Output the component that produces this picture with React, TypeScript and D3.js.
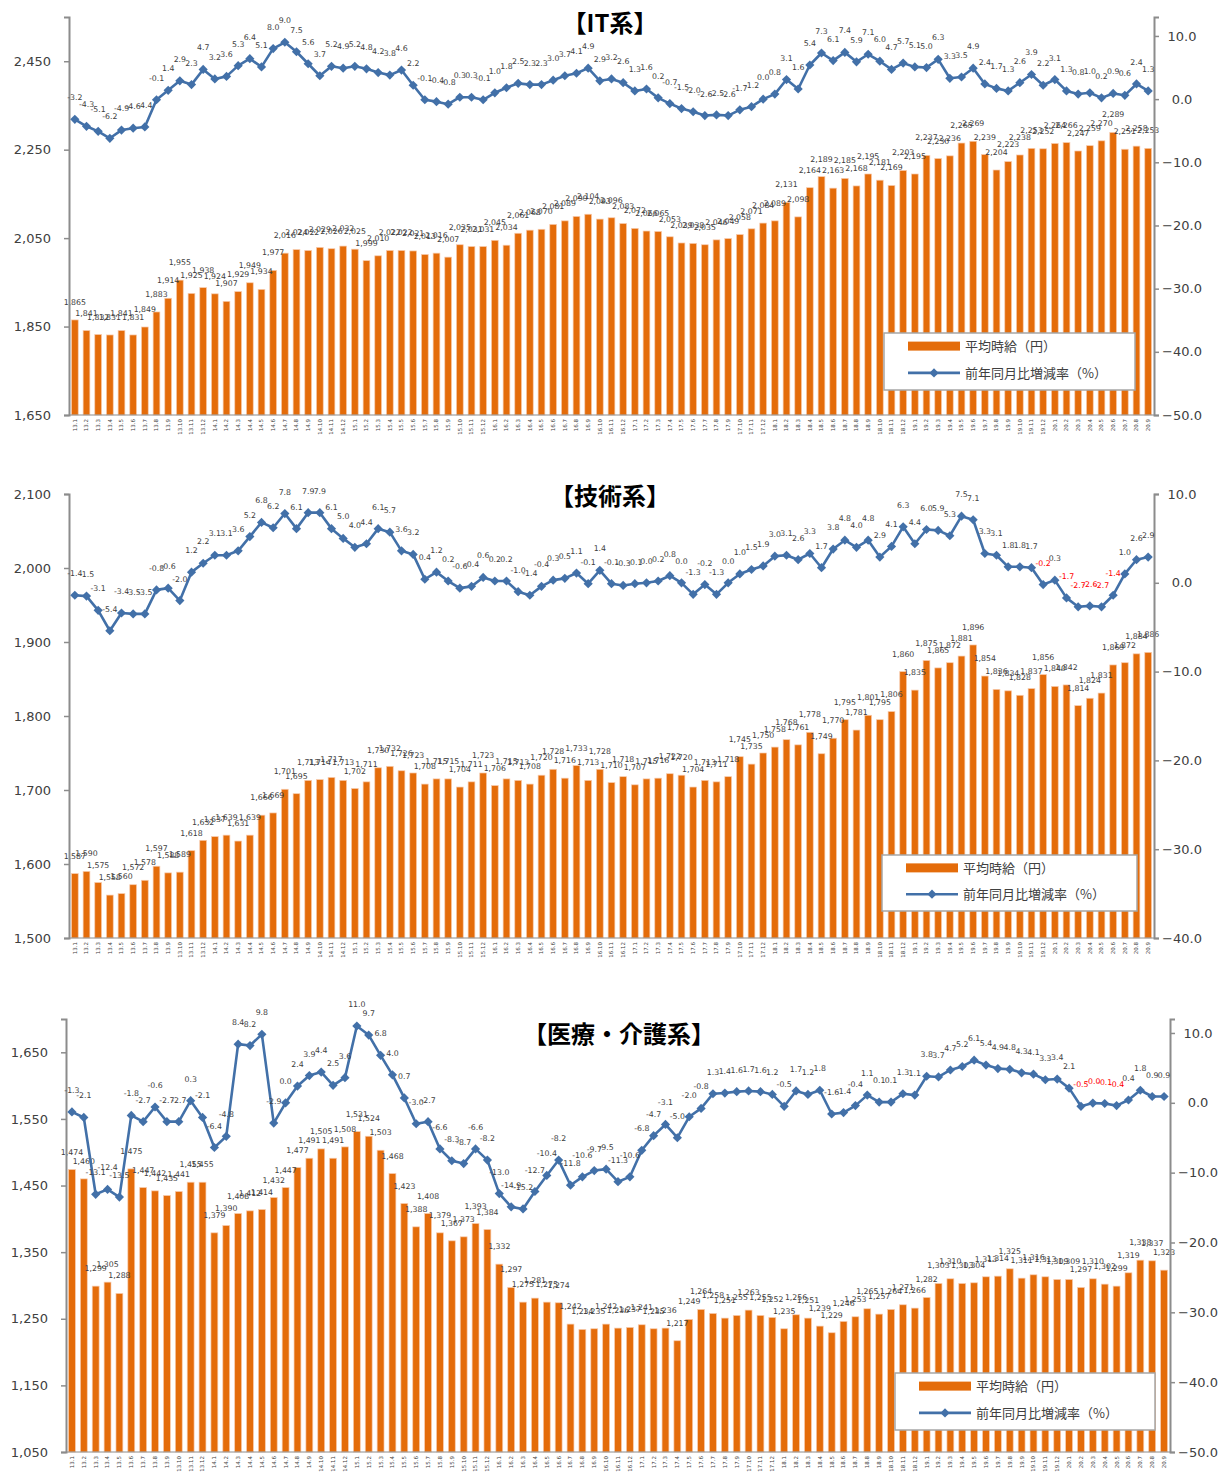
import React, { useRef, useEffect } from 'react';
import * as d3 from 'd3';

// month labels (year.month), Jan 2013 – Sep 2020
const months = [
  '13.1', '13.2', '13.3', '13.4', '13.5', '13.6', '13.7', '13.8', '13.9', '13.10', '13.11', '13.12',
  '14.1', '14.2', '14.3', '14.4', '14.5', '14.6', '14.7', '14.8', '14.9', '14.10', '14.11', '14.12',
  '15.1', '15.2', '15.3', '15.4', '15.5', '15.6', '15.7', '15.8', '15.9', '15.10', '15.11', '15.12',
  '16.1', '16.2', '16.3', '16.4', '16.5', '16.6', '16.7', '16.8', '16.9', '16.10', '16.11', '16.12',
  '17.1', '17.2', '17.3', '17.4', '17.5', '17.6', '17.7', '17.8', '17.9', '17.10', '17.11', '17.12',
  '18.1', '18.2', '18.3', '18.4', '18.5', '18.6', '18.7', '18.8', '18.9', '18.10', '18.11', '18.12',
  '19.1', '19.2', '19.3', '19.4', '19.5', '19.6', '19.7', '19.8', '19.9', '19.10', '19.11', '19.12',
  '20.1', '20.2', '20.3', '20.4', '20.5', '20.6', '20.7', '20.8', '20.9',
];

// 【IT系】
const itWage = [
  1865, 1841, 1832, 1831, 1841, 1831, 1849, 1883, 1914, 1955, 1925, 1938,
  1924, 1907, 1929, 1949, 1934, 1977, 2016, 2024, 2022, 2029, 2026, 2032,
  2025, 1999, 2010, 2022, 2022, 2021, 2013, 2016, 2007, 2035, 2031, 2031,
  2045, 2034, 2061, 2068, 2070, 2081, 2089, 2099, 2104, 2093, 2096, 2083,
  2072, 2066, 2065, 2053, 2039, 2038, 2035, 2046, 2049, 2058, 2071, 2084,
  2089, 2131, 2098, 2164, 2189, 2163, 2185, 2168, 2195, 2181, 2169, 2203,
  2195, 2237, 2230, 2236, 2265, 2269, 2239, 2204, 2223, 2238, 2253, 2252,
  2264, 2266, 2247, 2259, 2270, 2289, 2251, 2258, 2253,
];
const itRate = [
  -3.2, -4.3, -5.1, -6.2, -4.9, -4.6, -4.4, -0.1, 1.4, 2.9, 2.3, 4.7,
  3.2, 3.6, 5.3, 6.4, 5.1, 8.0, 9.0, 7.5, 5.6, 3.7, 5.2, 4.9,
  5.2, 4.8, 4.2, 3.8, 4.6, 2.2, -0.1, -0.4, -0.8, 0.3, 0.3, -0.1,
  1.0, 1.8, 2.5, 2.3, 2.3, 3.0, 3.7, 4.1, 4.9, 2.9, 3.2, 2.6,
  1.3, 1.6, 0.2, -0.7, -1.5, -2.0, -2.6, -2.5, -2.6, -1.7, -1.2, 0.0,
  0.8, 3.1, 1.6, 5.4, 7.3, 6.1, 7.4, 5.9, 7.1, 6.0, 4.7, 5.7,
  5.1, 5.0, 6.3, 3.3, 3.5, 4.9, 2.4, 1.7, 1.3, 2.6, 3.9, 2.2,
  3.1, 1.3, 0.8, 1.0, 0.2, 0.9, 0.6, 2.4, 1.3,
];

// 【技術系】
const techWage = [
  1587, 1590, 1575, 1558, 1560, 1572, 1578, 1597, 1588, 1589, 1618, 1632,
  1637, 1639, 1631, 1639, 1666, 1669, 1701, 1695, 1713, 1714, 1717, 1713,
  1702, 1711, 1730, 1732, 1726, 1723, 1708, 1715, 1715, 1704, 1711, 1723,
  1706, 1715, 1713, 1708, 1720, 1728, 1716, 1733, 1713, 1728, 1710, 1718,
  1707, 1715, 1716, 1722, 1720, 1704, 1713, 1711, 1718, 1745, 1735, 1750,
  1758, 1768, 1761, 1778, 1749, 1770, 1795, 1781, 1801, 1795, 1806, 1860,
  1835, 1875, 1865, 1872, 1881, 1896, 1854, 1836, 1834, 1828, 1837, 1856,
  1840, 1842, 1814, 1824, 1831, 1869, 1872, 1884, 1886,
];
const techRate = [
  -1.4, -1.5, -3.1, -5.4, -3.4, -3.5, -3.5, -0.8, -0.6, -2.0, 1.2, 2.2,
  3.1, 3.1, 3.6, 5.2, 6.8, 6.2, 7.8, 6.1, 7.9, 7.9, 6.1, 5.0,
  4.0, 4.4, 6.1, 5.7, 3.6, 3.2, 0.4, 1.2, 0.2, -0.6, -0.4, 0.6,
  0.2, 0.2, -1.0, -1.4, -0.4, 0.3, 0.5, 1.1, -0.1, 1.4, -0.1, -0.3,
  -0.1, 0.0, 0.2, 0.8, 0.0, -1.3, -0.2, -1.3, 0.0, 1.0, 1.5, 1.9,
  3.0, 3.1, 2.6, 3.3, 1.7, 3.8, 4.8, 4.0, 4.8, 2.9, 4.1, 6.3,
  4.4, 6.0, 5.9, 5.3, 7.5, 7.1, 3.3, 3.1, 1.8, 1.8, 1.7, -0.2,
  0.3, -1.7, -2.7, -2.6, -2.7, -1.4, 1.0, 2.6, 2.9,
];

// 【医療・介護系】
const medWage = [
  1474, 1460, 1299, 1305, 1288, 1475, 1447, 1442, 1435, 1441, 1455, 1455,
  1379, 1390, 1408, 1412, 1414, 1432, 1447, 1477, 1491, 1505, 1491, 1508,
  1531, 1524, 1503, 1468, 1423, 1388, 1408, 1379, 1367, 1373, 1393, 1384,
  1332, 1297, 1275, 1281, 1275, 1274, 1242, 1234, 1235, 1242, 1236, 1237,
  1241, 1235, 1236, 1217, 1249, 1264, 1258, 1251, 1255, 1263, 1255, 1252,
  1235, 1256, 1251, 1239, 1229, 1246, 1253, 1265, 1257, 1264, 1271, 1266,
  1282, 1303, 1310, 1303, 1304, 1313, 1314, 1325, 1311, 1316, 1313, 1309,
  1309, 1297, 1310, 1302, 1299, 1319, 1338, 1337, 1323,
];
const medRate = [
  -1.3, -2.1, -13.1, -12.4, -13.5, -1.8, -2.7, -0.6, -2.7, -2.7, 0.3, -2.1,
  -6.4, -4.8, 8.4, 8.2, 9.8, -2.9, 0.0, 2.4, 3.9, 4.4, 2.5, 3.6,
  11.0, 9.7, 6.8, 4.0, 0.7, -3.0, -2.7, -6.6, -8.3, -8.7, -6.6, -8.2,
  -13.0, -14.9, -15.2, -12.7, -10.4, -8.2, -11.8, -10.6, -9.7, -9.5, -11.3, -10.6,
  -6.8, -4.7, -3.1, -5.0, -2.0, -0.8, 1.3, 1.4, 1.6, 1.7, 1.6, 1.2,
  -0.5, 1.7, 1.2, 1.8, -1.6, -1.4, -0.4, 1.1, 0.1, 0.1, 1.3, 1.1,
  3.8, 3.7, 4.7, 5.2, 6.1, 5.4, 4.9, 4.8, 4.3, 4.1, 3.3, 3.4,
  2.1, -0.5, -0.04, -0.1, -0.4, 0.4, 1.8, 0.9, 0.9,
];

const wageLabel = '平均時給（円）';
const rateLabel = '前年同月比増減率（%）';

const BAR = '#E46C0A';
const LINE = '#4270A8';
const TEXT = '#404040';
const AXIS = '#8C8C8C';
const NUM_FONT = '"DejaVu Sans", Verdana, sans-serif';
const JP_FONT = '"Noto Sans CJK JP", "Noto Sans", sans-serif';

interface Panel {
  title: string;
  wage: number[];
  rate: number[];
  left: number;
  right: number;
  top: number;
  bottom: number;
  wageDomain: [number, number];
  wageTicks: number[];
  rateDomain: [number, number];
  rateTicks: number[];
  titleX: number;
  titleY: number;
  legend: { x: number; y: number; w: number; h: number };
}

const panels: Panel[] = [
  {
    title: '【IT系】', wage: itWage, rate: itRate,
    left: 69, right: 1154, top: 17, bottom: 415,
    wageDomain: [1650, 2550], wageTicks: [1650, 1850, 2050, 2250, 2450],
    rateDomain: [-50, 13], rateTicks: [-50, -40, -30, -20, -10, 0, 10],
    titleX: 610, titleY: 32,
    legend: { x: 884, y: 333, w: 251, h: 57 },
  },
  {
    title: '【技術系】', wage: techWage, rate: techRate,
    left: 69, right: 1154, top: 494, bottom: 938,
    wageDomain: [1500, 2100], wageTicks: [1500, 1600, 1700, 1800, 1900, 2000, 2100],
    rateDomain: [-40, 10], rateTicks: [-40, -30, -20, -10, 0, 10],
    titleX: 610, titleY: 505,
    legend: { x: 882, y: 855, w: 255, h: 56 },
  },
  {
    title: '【医療・介護系】', wage: medWage, rate: medRate,
    left: 66, right: 1170, top: 1019, bottom: 1452,
    wageDomain: [1050, 1700], wageTicks: [1050, 1150, 1250, 1350, 1450, 1550, 1650],
    rateDomain: [-50, 12], rateTicks: [-50, -40, -30, -20, -10, 0, 10],
    titleX: 619, titleY: 1043,
    legend: { x: 895, y: 1373, w: 260, h: 57 },
  },
];

const diamond = (r: number) => `M0,${-r}L${r},0L0,${r}L${-r},0Z`;

function drawPanel(svg: d3.Selection<SVGSVGElement, unknown, null, undefined>, p: Panel) {
  const g = svg.append('g');

  const x = d3.scaleBand<string>()
    .domain(months)
    .range([p.left, p.right])
    .paddingInner(0.42)
    .paddingOuter(0.21);
  const yL = d3.scaleLinear().domain(p.wageDomain).range([p.bottom, p.top]);
  const yR = d3.scaleLinear().domain(p.rateDomain).range([p.bottom, p.top]);
  const cx = (i: number) => (x(months[i]) as number) + x.bandwidth() / 2;

  // bars
  g.append('g')
    .selectAll('rect')
    .data(p.wage)
    .enter()
    .append('rect')
    .attr('x', (d, i) => x(months[i]) as number)
    .attr('y', d => yL(d))
    .attr('width', x.bandwidth())
    .attr('height', d => p.bottom - yL(d))
    .attr('fill', BAR)
    .attr('stroke', '#F8CBAD')
    .attr('stroke-width', 0.7);

  // bar labels
  g.append('g')
    .selectAll('text')
    .data(p.wage)
    .enter()
    .append('text')
    .attr('x', (d, i) => cx(i))
    .attr('y', d => yL(d) - 15)
    .attr('text-anchor', 'middle')
    .style('font-family', NUM_FONT)
    .style('font-size', '7.8px')
    .style('fill', TEXT)
    .text(d => d3.format(',')(d));

  // x axis
  g.append('line')
    .attr('x1', p.left).attr('x2', p.right)
    .attr('y1', p.bottom).attr('y2', p.bottom)
    .attr('stroke', AXIS).attr('stroke-width', 1);

  g.append('g')
    .selectAll('text')
    .data(months)
    .enter()
    .append('text')
    .attr('transform', (d, i) => `translate(${cx(i)},${p.bottom + 4}) rotate(-90)`)
    .attr('dy', '0.35em')
    .attr('text-anchor', 'end')
    .style('font-family', NUM_FONT)
    .style('font-size', '5.5px')
    .style('fill', TEXT)
    .text(d => d);

  // left axis
  const axL = g.append('g')
    .attr('transform', `translate(${p.left},0)`)
    .call(d3.axisLeft(yL).tickValues(p.wageTicks).tickFormat(d3.format(',')).tickSize(5).tickPadding(13));
  axL.select('.domain').attr('stroke', AXIS).attr('stroke-width', 2);
  axL.selectAll('.tick line').attr('stroke', AXIS).attr('stroke-width', 1.5);
  axL.selectAll('.tick text')
    .style('font-family', NUM_FONT)
    .style('font-size', '13px')
    .style('fill', TEXT);

  // right axis (labels centred like the original)
  const axR = g.append('g')
    .attr('transform', `translate(${p.right},0)`)
    .call(d3.axisRight(yR).tickValues(p.rateTicks).tickFormat(d3.format('.1f')).tickSize(5).tickPadding(23));
  axR.select('.domain').attr('stroke', AXIS).attr('stroke-width', 2);
  axR.selectAll('.tick line').attr('stroke', AXIS).attr('stroke-width', 1.5);
  axR.selectAll('.tick text')
    .attr('text-anchor', 'middle')
    .style('font-family', NUM_FONT)
    .style('font-size', '13px')
    .style('fill', TEXT);

  // rate line
  const line = d3.line<number>()
    .x((d, i) => cx(i))
    .y(d => yR(d));

  g.append('path')
    .datum(p.rate)
    .attr('d', line)
    .attr('fill', 'none')
    .attr('stroke', LINE)
    .attr('stroke-width', 2.6)
    .attr('stroke-linejoin', 'round');

  g.append('g')
    .selectAll('path')
    .data(p.rate)
    .enter()
    .append('path')
    .attr('transform', (d, i) => `translate(${cx(i)},${yR(d)})`)
    .attr('d', diamond(4.6))
    .attr('fill', LINE);

  // rate labels, recent negative months in red
  g.append('g')
    .selectAll('text')
    .data(p.rate)
    .enter()
    .append('text')
    .attr('x', (d, i) => cx(i))
    .attr('y', d => yR(d) - 19)
    .attr('text-anchor', 'middle')
    .style('font-family', NUM_FONT)
    .style('font-size', '7.8px')
    .style('fill', (d, i) => (i >= 83 && d < 0 ? '#FF0000' : TEXT))
    .text(d => d.toFixed(1));

  // title
  g.append('text')
    .attr('x', p.titleX)
    .attr('y', p.titleY)
    .attr('text-anchor', 'middle')
    .style('font-family', JP_FONT)
    .style('font-size', '24px')
    .style('font-weight', 'bold')
    .style('fill', '#000')
    .text(p.title);

  // legend
  const L = p.legend;
  const lg = g.append('g').attr('transform', `translate(${L.x},${L.y})`);
  lg.append('rect')
    .attr('width', L.w).attr('height', L.h)
    .attr('fill', '#fff')
    .attr('stroke', '#A6A6A6')
    .attr('stroke-width', 1.5);
  const r1 = L.h * 0.23;
  const r2 = L.h * 0.7;
  lg.append('rect')
    .attr('x', 24).attr('y', r1 - 4.5)
    .attr('width', 52).attr('height', 9)
    .attr('fill', BAR);
  lg.append('line')
    .attr('x1', 24).attr('x2', 76)
    .attr('y1', r2).attr('y2', r2)
    .attr('stroke', LINE).attr('stroke-width', 2.6);
  lg.append('path')
    .attr('transform', `translate(50,${r2})`)
    .attr('d', diamond(4.6))
    .attr('fill', LINE);
  [[wageLabel, r1], [rateLabel, r2]].forEach(([label, ry]) => {
    lg.append('text')
      .attr('x', 81)
      .attr('y', ry as number)
      .attr('dy', '0.36em')
      .style('font-family', JP_FONT)
      .style('font-size', '13px')
      .style('fill', TEXT)
      .text(label as string);
  });
}

const App: React.FC = () => {
  const svgRef = useRef<SVGSVGElement>(null);

  useEffect(() => {
    if (!svgRef.current) return;
    const svg = d3.select(svgRef.current);
    svg.selectAll('*').remove();
    svg.append('rect').attr('width', 1225).attr('height', 1472).attr('fill', '#fff');
    panels.forEach(p => drawPanel(svg, p));
  }, []);

  return (
    <svg
      ref={svgRef}
      width={1225}
      height={1472}
      style={{ position: 'absolute', left: 0, top: 0, display: 'block' }}
    />
  );
};

export default App;
